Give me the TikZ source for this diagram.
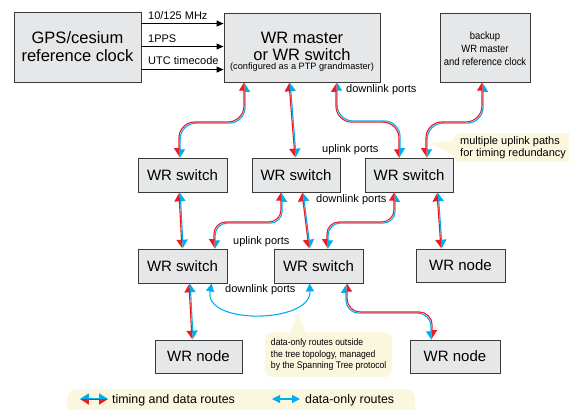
\documentclass[tikz,border=0pt]{standalone}
\usepackage{fontspec}
\setmainfont{Liberation Sans}
\newfontfamily\narrowfont[FakeStretch=0.9]{Liberation Sans}
\usetikzlibrary{arrows.meta,calc}
\definecolor{rr}{HTML}{ED1C24}
\definecolor{bb}{HTML}{00AEEF}
\definecolor{boxfill}{HTML}{E6E7E8}
\definecolor{boxline}{HTML}{3A3A3A}
\definecolor{notefill}{HTML}{FBF6DE}
\newcommand\fs[1]{\fontsize{#1}{#1}\selectfont}
\tikzset{
  box/.style={draw=boxline, fill=boxfill, line width=0.9pt, inner sep=0pt, align=center},
  boxtext/.style={inner sep=0pt, align=center},
  lbl/.style={font=\fs{11}, inner sep=0pt, anchor=west},
  sig/.style={draw=black, line width=0.9pt, -{Triangle[length=7pt,width=6pt]}},
  tipsA/.style={{Triangle[harpoon,length=8pt,width=10pt]}-{Triangle[harpoon,swap,length=8pt,width=10pt]}},
  tipsB/.style={{Triangle[harpoon,swap,length=8pt,width=10pt]}-{Triangle[harpoon,length=8pt,width=10pt]}},
  redline/.style={draw=rr, line width=1.1pt},
  blueline/.style={draw=bb, line width=1.1pt},
  dataonly/.style={draw=bb, line width=1.1pt, {Triangle[length=8pt,width=8pt]}-{Triangle[length=8pt,width=8pt]}},
  note/.style={fill=notefill, rounded corners=8pt, inner sep=0pt, anchor=north west, align=left},
}
% #1 options, #2 x sign, #3 y sign, #4 red tips, #5 blue tips, #6 path
\newcommand\wrroute[6]{%
  \draw[blueline, #1, #5, transform canvas={xshift={-(#2)*0.6pt}, yshift={-(#3)*0.6pt}}] #6;
  \draw[redline, #1, #4, transform canvas={xshift={(#2)*0.6pt}, yshift={(#3)*0.6pt}}] #6;
}
\begin{document}
\begin{tikzpicture}[x=1pt,y=-1pt]
\useasboundingbox (0,0) rectangle (569,409);
% legend background
\node[fill=notefill, rounded corners=9pt, minimum width=348pt, minimum height=30pt, inner sep=0pt, anchor=north west] (leg) at (67,389) {};
% boxes
\node[box, minimum width=127pt, minimum height=70pt] (gps) at (77.5,47) {};
\node[boxtext, font=\fs{16.5}] (gpst) at (77.5,47) {GPS/cesium\\[1.5pt]reference clock};
\node[box, minimum width=156pt, minimum height=69pt] (m) at (302,47.5) {};
\node[boxtext, font=\fs{16.5}] (mt) at (302,52) {WR master\\[0pt]or WR switch\\[-7pt]{\fs{9.2}(configured as a PTP grandmaster)}};
\node[box, minimum width=90pt, minimum height=69pt] (bk) at (485,47.5) {};
\node[boxtext, font=\narrowfont\fs{10.5}] (bkt) at (485,49) {backup\\[2.5pt]WR master\\[2.5pt]and reference clock};
\node[box, minimum width=89pt, minimum height=34pt, font=\fs{15}] (s1) at (182.5,175) {WR switch};
\node[box, minimum width=88pt, minimum height=34pt, font=\fs{15}] (s2) at (296,175) {WR switch};
\node[box, minimum width=88pt, minimum height=34pt, font=\fs{15}] (s3) at (409,175) {WR switch};
\node[box, minimum width=89pt, minimum height=34pt, font=\fs{15}] (s4) at (182.5,266) {WR switch};
\node[box, minimum width=89pt, minimum height=34pt, font=\fs{15}] (s5) at (318.5,266) {WR switch};
\node[box, minimum width=89pt, minimum height=33pt, font=\fs{15}] (n1) at (460.5,265.5) {WR node};
\node[box, minimum width=87pt, minimum height=33pt, font=\fs{15}] (n2) at (198.5,356.5) {WR node};
\node[box, minimum width=90pt, minimum height=33pt, font=\fs{15}] (n3) at (455,356.5) {WR node};
% reference signals
\coordinate (t1) at ($(gps.north east)+(0,12)$);
\coordinate (t2) at ($(gps.north east)+(0,35)$);
\coordinate (t3) at ($(gps.north east)+(0,58)$);
\draw[sig] (t1) -- (t1 -| m.west);
\draw[sig] (t2) -- (t2 -| m.west);
\draw[sig] (t3) -- (t3 -| m.west);
\node[lbl] (l1) at (148,16) {10/125 MHz};
\node[lbl] (l2) at (148,39) {1PPS};
\node[lbl] (l3) at (148,61) {UTC timecode};
% port labels
\node[lbl] (p1) at (346,90) {downlink ports};
\node[lbl] (p2) at (322,150) {uplink ports};
\node[lbl] (p3) at (316,200) {downlink ports};
\node[lbl] (p4) at (233,242) {uplink ports};
\node[lbl] (p5) at (225,290) {downlink ports};
% callouts
\node[note, minimum width=125pt, minimum height=29pt, inner xsep=7pt, font=\fs{11}] (c1) at (453,133) {multiple uplink paths\\[1.5pt]for timing redundancy\hspace*{10pt}};
\fill[notefill] ($(c1.west)+(1,-7)$) -- (431,143) -- ($(c1.west)+(1,8)$) -- cycle;
\node[note, minimum width=127pt, minimum height=45pt, inner xsep=5pt, font=\narrowfont\fs{9.6}] (c2) at (265,332) {data-only routes outside\\[2pt]the tree topology, managed\\[2pt]by the Spanning Tree protocol};
\fill[notefill] ($(c2.north west)+(25,1)$) -- (298,314) -- ($(c2.north west)+(41,1)$) -- cycle;
% timing and data routes
\wrroute{rounded corners=16pt}{-1}{1}{tipsA}{tipsB}{($(m.south west)+(21,0)$) |- ($(s1.north west)+(42,-35)$) -- ($(s1.north west)+(42,0)$)}
\wrroute{}{-1}{0}{tipsA}{tipsB}{($(m.south west)+(66,0)$) -- ($(s2.north west)+(44,0)$)}
\wrroute{rounded corners=16pt}{-1}{-1}{tipsA}{tipsB}{($(m.south west)+(113,0)$) |- ($(s3.north west)+(35,-36)$) -- ($(s3.north west)+(35,0)$)}
\wrroute{rounded corners=16pt}{-1}{1}{tipsA}{tipsB}{($(bk.south west)+(43,0)$) |- ($(s3.north west)+(62,-35)$) -- ($(s3.north west)+(62,0)$)}
\wrroute{}{-1}{0}{tipsA}{tipsB}{($(s1.south west)+(42,0)$) -- ($(s4.north west)+(45,0)$)}
\wrroute{rounded corners=12pt}{-1}{1}{tipsA}{tipsB}{($(s2.south west)+(30,0)$) |- ($(s4.north west)+(77,-26)$) -- ($(s4.north west)+(77,0)$)}
\wrroute{}{-1}{0}{tipsA}{tipsB}{($(s2.south west)+(51,0)$) -- ($(s5.north west)+(36,0)$)}
\wrroute{rounded corners=12pt}{-1}{1}{tipsA}{tipsB}{($(s3.south west)+(30,0)$) |- ($(s5.north west)+(54,-26)$) -- ($(s5.north west)+(54,0)$)}
\wrroute{}{-1}{0}{tipsA}{tipsB}{($(s3.south west)+(73,0)$) -- ($(n1.north west)+(26,0)$)}
\wrroute{}{-1}{0}{tipsA}{tipsB}{($(s4.south west)+(52,0)$) -- ($(n2.north west)+(38,0)$)}
\wrroute{rounded corners=13pt}{1}{1}{tipsB}{tipsA}{($(s5.south west)+(73,0)$) |- ($(n3.north west)+(22,-27)$) -- ($(n3.north west)+(22,0)$)}
% data-only route
\draw[dataonly] ($(s4.south west)+(74,0)$) .. controls ($(s4.south west)+(66,42)$) and ($(s5.south west)+(38,40)$) .. ($(s5.south west)+(36,0)$);
% legend
\coordinate (la) at (80,399);
\coordinate (lb) at (108,399);
\wrroute{}{0}{-1}{tipsA}{tipsB}{(la) -- (lb)}
\node[lbl, font=\fs{12.4}] (lt1) at (112,400) {timing and data routes};
\coordinate (lc) at (272,399);
\coordinate (ld) at (300,399);
\draw[dataonly] (lc) -- (ld);
\node[lbl, font=\fs{12.4}] (lt2) at (305,400) {data-only routes};
\end{tikzpicture}
\end{document}
